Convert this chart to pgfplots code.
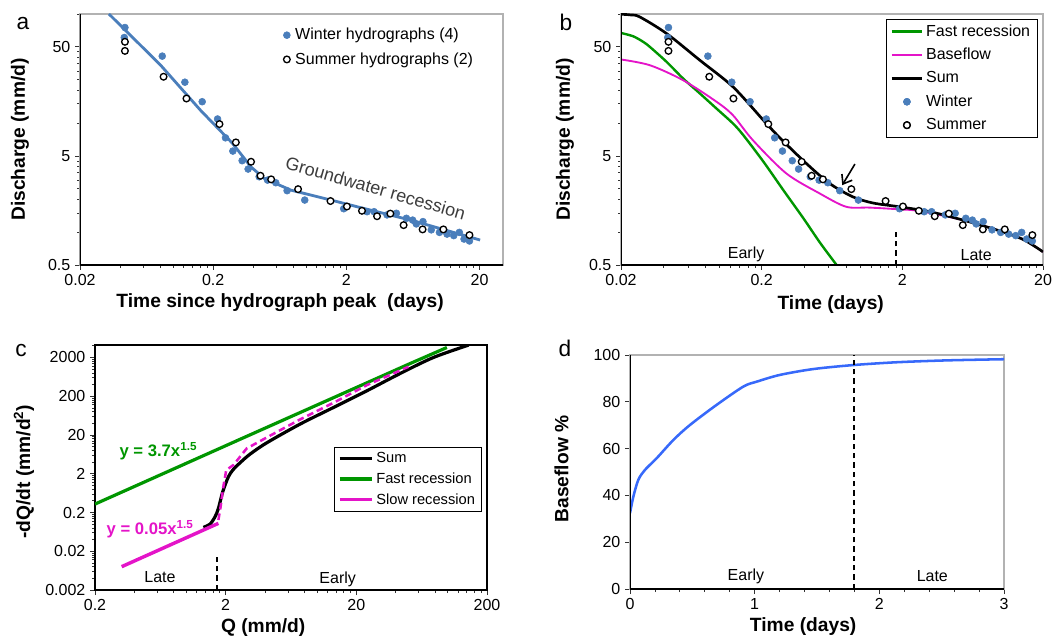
\documentclass[border=0pt]{standalone}
\usepackage{fontspec}
\setmainfont{Liberation Sans}
\usepackage{pgfplots}
\usepackage{pgfplotstable}
\pgfplotsset{compat=1.18}
\usetikzlibrary{arrows.meta}

\definecolor{wblue}{RGB}{74,126,187}
\definecolor{fgreen}{RGB}{0,150,0}
\definecolor{bmag}{RGB}{228,20,200}
\definecolor{dblue}{RGB}{55,105,250}
\definecolor{txtgray}{RGB}{60,60,60}

% winter / summer recession points (same in a and b)
\pgfplotstableread{
x y
0.0435 75.2
0.043 60.9
0.0829 41.1
0.1226 23.7
0.1654 15.7
0.2157 10.9
0.2474 7.33
0.281 5.54
0.330 4.52
0.366 3.79
0.443 3.22
0.512 3.00
0.59 2.84
0.718 2.40
0.974 1.97
1.91 1.64
2.86 1.54
3.23 1.54
4.04 1.44
4.75 1.49
5.65 1.34
6.29 1.29
6.70 1.19
7.52 1.25
8.68 1.05
10.0 0.995
11.4 0.96
12.8 0.93
14.1 0.995
15.3 0.865
16.8 0.83
}\winter

\pgfplotstableread{
x y
0.0435 55.6
0.0435 45.9
0.0848 26.6
0.126 16.8
0.223 9.79
0.296 6.65
0.385 4.42
0.453 3.29
0.545 3.05
0.868 2.48
1.52 1.93
2.02 1.72
2.62 1.57
3.40 1.40
4.28 1.48
5.38 1.16
7.47 1.06
10.7 1.06
16.8 0.94
}\summer

\pgfplotsset{
  panel/.style={
    scale only axis, anchor=south west,
    axis line style={draw=gray!60, line width=0.8pt},
    tick pos=left, tick align=outside,
    major tick length=3.75pt, minor tick length=2.25pt,
    every tick/.style={black!80, line width=0.6pt},
    tick label style={font=\fontsize{12}{14}\selectfont},
    /pgf/number format/assume math mode=true,
    label style={font=\fontsize{14.4}{17}\selectfont\bfseries},
  },
  legend image code/.code={\draw[mark repeat=2,mark phase=2,#1] plot coordinates {(0cm,0cm) (0.4cm,0cm) (0.8cm,0cm)};
    \draw[mark repeat=2,mark phase=2,#1] plot coordinates {(0cm,0cm) (0.4cm,0cm) (0.8cm,0cm)};},
}
\newcommand{\lbaxis}{\draw[black, line width=0.9pt] (rel axis cs:0,1) -- (rel axis cs:0,0) -- (rel axis cs:1,0);}

\begin{document}
\begin{tikzpicture}
\useasboundingbox (0,0) rectangle (797.25pt,477.75pt);

% ---------- a ----------
\begin{axis}[panel, at={(60pt,279pt)}, width=317.25pt, height=188.25pt,
  xmode=log, ymode=log, xmin=0.02, xmax=30, ymin=0.5, ymax=100,
  xtick={0.02,0.2,2,20}, xticklabels={0.02,0.2,2,20},
  minor xtick={0.04,0.06,0.08,0.1,0.12,0.14,0.16,0.18,0.4,0.6,0.8,1,1.2,1.4,1.6,1.8,4,6,8,10,12,14,16,18},
  ytick={0.5,5,50}, yticklabels={0.5,5,50},
  minor ytick={1,1.5,2,2.5,3,3.5,4,4.5,10,15,20,25,30,35,40,45,100},
  xlabel={Time since hydrograph peak\ \ (days)}, ylabel={Discharge (mm/d)},
  xlabel style={at={(rel axis cs:0.473,-0.151)}, anchor=center},
  ylabel style={at={(rel axis cs:-0.142,0.5)}, anchor=center},
  legend style={at={(rel axis cs:0.47,0.965)}, anchor=north west, draw=none, fill=none,
    font=\fontsize{12}{14}\selectfont, row sep=4pt, cells={anchor=west}},
  legend image code/.code={\path[draw=none, fill=none] (0cm,0cm) -- (0.25cm,0cm); \draw[#1] plot coordinates {(0.1cm,0cm)};},
]
\addplot[wblue, line width=2.1pt, forget plot] coordinates {
(0.033,100) (0.0805,34) (0.1607,13.1) (0.28,6.5) (0.384,3.97) (0.483,3.11)
(0.766,2.43) (1.53,1.97) (3.05,1.59) (6.08,1.29) (20.2,0.847)};
\addplot[only marks, mark=*, mark size=2.6pt, mark options={fill=wblue, draw=wblue}] table {\winter};
\addlegendentry{Winter hydrographs (4)}
\addplot[only marks, mark=*, mark size=2.5pt, mark options={fill=white, draw=black, line width=1pt}] table {\summer};
\addlegendentry{Summer hydrographs (2)}
\node[rotate=-16, text=txtgray, font=\fontsize{13.5}{15}\selectfont] at (axis cs:3.32,2.54) {Groundwater recession};
\lbaxis
\end{axis}

% ---------- b ----------
\begin{axis}[panel, at={(465.75pt,279pt)}, width=316.5pt, height=188.25pt,
  xmode=log, ymode=log, xmin=0.02, xmax=20, ymin=0.5, ymax=100,
  xtick={0.02,0.2,2,20}, xticklabels={0.02,0.2,2,20},
  minor xtick={0.04,0.06,0.08,0.1,0.12,0.14,0.16,0.18,0.4,0.6,0.8,1,1.2,1.4,1.6,1.8,4,6,8,10,12,14,16,18},
  ytick={0.5,5,50}, yticklabels={0.5,5,50},
  minor ytick={1,1.5,2,2.5,3,3.5,4,4.5,10,15,20,25,30,35,40,45,100},
  xlabel={Time (days)}, ylabel={Discharge (mm/d)},
  xlabel style={at={(rel axis cs:0.497,-0.159)}, anchor=center},
  ylabel style={at={(rel axis cs:-0.133,0.5)}, anchor=center},
  legend style={at={(rel axis cs:0.986,0.98)}, anchor=north east, draw=black,
    font=\fontsize{12}{14}\selectfont, row sep=3.5pt, cells={anchor=west}, inner ysep=2pt},
]
\addplot[fgreen, line width=1.8pt, smooth] coordinates {
(0.02,67) (0.0244,62.5) (0.0288,55.5) (0.0321,49.9) (0.0422,36.4) (0.0553,25.6) (0.0727,18.7)
(0.0954,13.6) (0.125,9.92) (0.148,7.76) (0.206,4.42) (0.285,2.43) (0.396,1.34) (0.52,0.80) (0.682,0.5)};
\addlegendentry{Fast recession}
\addplot[bmag, line width=1.4pt, smooth] coordinates {
(0.02,38.3) (0.0321,33.9) (0.0553,24.7) (0.0954,15.7) (0.125,11.8) (0.173,6.98)
(0.299,3.46) (0.515,2.27) (0.797,1.71) (1.17,1.68) (1.90,1.62) (2.66,1.56)
(5.41,1.29) (9.33,1.05) (14.4,0.859) (20,0.66)};
\addlegendentry{Baseflow}
\addplot[black, line width=2pt, smooth] coordinates {
(0.02,99.5) (0.0235,98) (0.0272,94) (0.0422,66.2) (0.0727,37.7) (0.125,21.5) (0.206,10.6)
(0.27,7.3) (0.415,4.27) (0.607,2.80) (0.888,2.11) (1.24,1.85) (1.9,1.71) (3.14,1.54)
(5.41,1.29) (9.33,1.05) (14.4,0.859) (20,0.66)};
\addlegendentry{Sum}
\addplot[only marks, mark=*, mark size=2.6pt, mark options={fill=wblue, draw=wblue}] table {\winter};
\addlegendentry{Winter}
\addplot[only marks, mark=*, mark size=2.5pt, mark options={fill=white, draw=black, line width=1pt}] table {\summer};
\addlegendentry{Summer}
\addplot[black, line width=1.5pt, dash pattern=on 4pt off 3pt, forget plot] coordinates {(1.79,0.5) (1.79,1.01)};
\draw[-{Straight Barb[length=6pt,width=9pt]}, line width=1.2pt] (axis cs:0.92,4.21) -- (axis cs:0.748,2.70);
\node[font=\fontsize{12}{14}\selectfont] at (axis cs:0.155,0.63) {Early};
\node[font=\fontsize{12}{14}\selectfont] at (axis cs:6.7,0.62) {Late};
\lbaxis
\end{axis}

% ---------- c ----------
\begin{axis}[panel, at={(71.25pt,35.25pt)}, width=294pt, height=183.75pt,
  axis line style={draw=black},
  xmode=log, ymode=log, xmin=0.2, xmax=200, ymin=0.002, ymax=4200,
  xtick={0.2,2,20,200}, xticklabels={0.2,2,20,200},
  minor xtick={0.4,0.6,0.8,1,1.2,1.4,1.6,1.8,4,6,8,10,12,14,16,18,40,60,80,100,120,140,160,180},
  ytick={0.002,0.02,0.2,2,20,200,2000}, yticklabels={0.002,0.02,0.2,2,20,200,2000},
  minor ytick={0.004,0.006,0.008,0.01,0.012,0.014,0.016,0.018,0.04,0.06,0.08,0.1,0.12,0.14,0.16,0.18,
    0.4,0.6,0.8,1,1.2,1.4,1.6,1.8,4,6,8,10,12,14,16,18,40,60,80,100,120,140,160,180,400,600,800,1000,1200,1400,1600,1800,4000},
  xlabel={Q (mm/d)}, ylabel={-dQ/dt (mm/d\textsuperscript{2})},
  xlabel style={at={(rel axis cs:0.429,-0.155)}, anchor=center},
  ylabel style={at={(rel axis cs:-0.181,0.483)}, anchor=center},
  legend style={at={(rel axis cs:0.987,0.584)}, anchor=north east, draw=black,
    font=\fontsize{11}{13}\selectfont, row sep=2pt, cells={anchor=west}, inner ysep=2pt},
  legend image code/.code={\draw[#1, line width=2.4pt] (0cm,0cm) -- (0.85cm,0cm);
    \draw[#1, line width=2.4pt] (0cm,0cm) -- (0.85cm,0cm);},
]
\addplot[black, line width=2.4pt, smooth] coordinates {
(1.351,0.0828) (1.52,0.1008) (1.66,0.156) (1.76,0.256) (1.90,0.688) (2.1,1.68) (2.29,2.59)
(2.58,3.85) (3.08,6.45) (4.13,12.6) (7.43,38.3) (13.4,103) (24.1,277) (43.4,776) (78.0,2008) (144.7,4178)};
\addlegendentry{Sum}
\addplot[fgreen, line width=2.4pt] coordinates {(0.2,0.33) (2.9,18.5) (51.7,1400) (98.6,3620)};
\addlegendentry{Fast recession}
\addplot[bmag, line width=2.6pt] coordinates {(0.32,0.008) (1.76,0.105)};
\addlegendentry{Slow recession}
\addplot[bmag, line width=1.9pt, dash pattern=on 5pt off 3pt, forget plot] coordinates {
(1.76,0.128) (1.83,0.282) (1.92,0.926) (2.02,2.49) (2.29,3.35) (2.90,9.02) (4.13,17.3)
(7.43,50.5) (13.4,136) (24.1,388) (50.2,1154)};
\addplot[black, line width=1.5pt, dash pattern=on 4pt off 3pt, forget plot] coordinates {(1.71,0.002) (1.71,0.016)};
\node[text=fgreen, font=\fontsize{12.5}{14}\selectfont\bfseries] at (axis cs:0.611,7.7) {y = 3.7x\textsuperscript{1.5}};
\node[text=bmag, font=\fontsize{12.5}{14}\selectfont\bfseries] at (axis cs:0.528,0.0734) {y = 0.05x\textsuperscript{1.5}};
\node[font=\fontsize{12}{14}\selectfont] at (axis cs:0.629,0.00424) {Late};
\node[font=\fontsize{12}{14}\selectfont] at (axis cs:14.4,0.00377) {Early};
\end{axis}

% ---------- d ----------
\begin{axis}[panel, at={(472.5pt,36pt)}, width=280.5pt, height=175.5pt,
  xmin=0, xmax=3, ymin=0, ymax=100,
  xtick={0,1,2,3}, minor x tick num=4, ytick={0,20,40,60,80,100},
  xlabel={Time (days)}, ylabel={Baseflow \%},
  xlabel style={at={(rel axis cs:0.463,-0.162)}, anchor=center},
  ylabel style={at={(rel axis cs:-0.183,0.513)}, anchor=center},
]
\addplot[dblue, line width=1.9pt, smooth] coordinates {
(0,32.4) (0.027,39.5) (0.067,46.7) (0.12,50.9) (0.214,55.9) (0.348,63.7) (0.481,70.1)
(0.695,78.7) (0.909,86.5) (1.016,88.6) (1.203,91.5) (1.471,94.0) (1.791,95.7)
(2.139,96.9) (2.540,97.7) (3.0,98.2)};
\addplot[black, line width=1.6pt, dash pattern=on 4pt off 3pt] coordinates {(1.8,0) (1.8,100)};
\node[font=\fontsize{12}{14}\selectfont] at (axis cs:0.93,5.4) {Early};
\node[font=\fontsize{12}{14}\selectfont] at (axis cs:2.425,5.7) {Late};
\lbaxis
\end{axis}

% panel letters
\node[font=\fontsize{17}{20}\selectfont] at (17.25pt,459.75pt) {a};
\node[font=\fontsize{17}{20}\selectfont] at (424.5pt,461.25pt) {b};
\node[font=\fontsize{17}{20}\selectfont] at (15.75pt,214.5pt) {c};
\node[font=\fontsize{17}{20}\selectfont] at (423.75pt,216.75pt) {d};
\end{tikzpicture}
\end{document}
